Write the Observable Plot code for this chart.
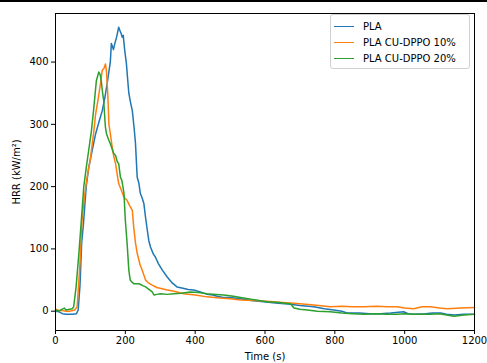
<!DOCTYPE html>
<html>
<head>
<meta charset="utf-8">
<script src="https://cdn.jsdelivr.net/npm/d3@7"></script>
<script src="https://cdn.jsdelivr.net/npm/@observablehq/plot@0.6"></script>
<style>
  html, body { margin: 0; padding: 0; background: #fff; }
  #wrap { position: relative; width: 487px; height: 363px; overflow: hidden; }
  #topline { position: absolute; left: 0; top: 0; width: 487px; height: 2px; background: #000; }
  #legend { position: absolute; left: 330px; top: 14px; width: 140px; height: 55px;
    border: 1px solid #d0d0d0; border-radius: 3px; background: rgba(255,255,255,0.85);
    font-family: "DejaVu Sans", sans-serif; font-size: 10px; color: #000; box-sizing: border-box; }
  .item { position: absolute; left: 0; height: 14px; line-height: 14px; }
  .item .sw { position: absolute; left: 3px; top: 6px; width: 20px; height: 0; border-top: 1.5px solid; }
  .item .lb { position: absolute; left: 32px; white-space: nowrap; }
</style>
</head>
<body>
<div id="wrap"><div id="topline"></div></div>
<script>
// Series names and colours
const seriesNames = ["PLA", "PLA CU-DPPO 10%", "PLA CU-DPPO 20%"];
const seriesColors = ["#1f77b4", "#ff7f0e", "#2ca02c"];

// PLA
const plaTime = [0,10,20,30,40,50,60,65,70,75,80,88,95,105,115,125,134,142,148,153,157,160,163,166,170,175,181,185,188,191,194,198,203,207,210,215,220,225,229,234,239,243,248,253,258,263,267,272,280,286,295,306,320,335,348,365,380,396,415,434,450,463,480,500,530,560,596,630,673,700,740,770,797,820,835,870,900,931,960,997,1010,1026,1060,1080,1103,1120,1141,1170,1200];
const plaHRR = [0,-1,-4,-5,-5,-5,-4,2,40,110,140,200,230,258,285,305,322,345,366,385,400,430,425,420,430,440,456,450,446,440,443,420,398,370,350,335,322,295,270,215,205,189,182,173,150,130,114,103,92,87,76,66,55,45,39,37,35,34,31,27,26,24,22,22,20,17,15,13,11,9,7,4,2,0,-3,-3,-4,-4,-3,-1,-4,-5,-4,-3,-3,-5,-6,-5,-5];

// PLA CU-DPPO 10%
const cu10Time = [0,10,20,30,40,50,55,62,69,76,82,89,100,110,115,122,129,134,139,143,146,150,153,157,162,167,172,178,181,188,196,205,212,220,224,229,234,242,248,258,265,277,290,306,320,340,367,400,434,470,500,530,570,625,650,673,700,740,787,820,850,883,920,950,978,1000,1026,1050,1074,1100,1122,1160,1200];
const cu10HRR = [3,1,1,0,0,1,2,7,66,146,180,210,245,290,317,340,366,387,390,397,385,345,300,285,265,248,237,215,205,195,183,178,170,162,135,110,93,75,66,50,46,42,38,36,34,32,28,26,23,21,20,18,17,15,14,13,12,10,7,8,7,7,8,7,7,5,4,7,7,5,4,5,6];

// PLA CU-DPPO 20%
const cu20Time = [0,10,18,25,30,40,48,52,59,67,74,81,88,95,103,110,117,124,128,131,135,138,143,146,153,157,167,172,177,181,186,190,196,200,205,210,214,218,225,239,250,258,277,282,290,301,320,339,360,387,410,434,460,482,510,530,560,606,640,673,683,700,721,750,787,820,850,883,920,950,978,1000,1030,1074,1100,1120,1141,1170,1200];
const cu20HRR = [2,0,3,5,2,3,4,7,39,93,146,200,230,258,290,328,370,384,380,370,350,338,295,285,274,269,253,250,240,237,215,210,190,146,110,66,50,47,44,44,41,39,31,26,27,28,27,28,29,31,30,28,27,26,24,22,19,15,14,12,5,3,2,0,-1,-3,-4,-5,-4,-5,-5,-4,-5,-5,-4,-6,-8,-6,-5];

// Axis ticks
const xTicks = [0,200,400,600,800,1000,1200];
const yTicks = [0,100,200,300,400];

const toRows = (t, v) => t.map((d, i) => ({t: d, v: v[i]}));
const rows = [toRows(plaTime, plaHRR), toRows(cu10Time, cu10HRR), toRows(cu20Time, cu20HRR)];

const chart = Plot.plot({
  width: 487,
  height: 363,
  marginLeft: 55,
  marginRight: 13,
  marginTop: 13,
  marginBottom: 33,
  style: {fontFamily: "DejaVu Sans, sans-serif", fontSize: "10px", background: "#fff", color: "#000", overflow: "visible"},
  x: {domain: [0, 1200]},
  y: {domain: [-31, 478]},
  marks: [
    Plot.axisX({ticks: xTicks, tickFormat: d => String(d), tickSize: 4, tickPadding: 2, label: "Time (s)", labelAnchor: "center", labelArrow: "none", labelOffset: 29, fontSize: 10}),
    Plot.axisY({ticks: yTicks, tickFormat: d => String(d), tickSize: 4, tickPadding: 3, label: "HRR (kW/m²)", labelAnchor: "center", labelArrow: "none", labelOffset: 43, fontSize: 10}),
    ...rows.map((r, i) => Plot.line(r, {x: "t", y: "v", stroke: seriesColors[i], strokeWidth: 1.5})),
    Plot.frame({stroke: "#000", strokeWidth: 1})
  ]
});
const wrap = document.getElementById("wrap");
wrap.insertBefore(chart, wrap.firstChild);

const legend = document.createElement("div");
legend.id = "legend";
seriesNames.forEach((n, i) => {
  const it = document.createElement("div");
  it.className = "item";
  it.style.top = (5 + i * 16) + "px";
  it.innerHTML = `<span class="sw" style="border-color:${seriesColors[i]}"></span><span class="lb">${n}</span>`;
  legend.appendChild(it);
});
wrap.appendChild(legend);
</script>
</body>
</html>
